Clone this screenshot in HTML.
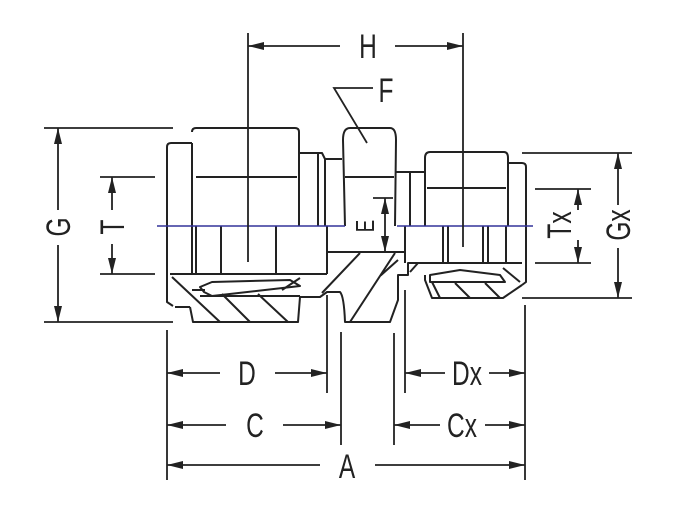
<!DOCTYPE html>
<html><head><meta charset="utf-8"><style>
html,body{margin:0;padding:0;background:#fff;}
svg{display:block}
text{font-family:"Liberation Sans",sans-serif;fill:#222;}
</style></head><body>
<svg width="676" height="516" viewBox="0 0 676 516" xmlns="http://www.w3.org/2000/svg">
<defs>
<marker id="ar" viewBox="0 0 16 8" refX="16" refY="4" markerWidth="16" markerHeight="8" markerUnits="userSpaceOnUse" orient="auto">
<path d="M0,0 L16,4 L0,8 Z" fill="#222"/></marker>
</defs>
<g stroke="#222" stroke-width="2" fill="none" stroke-linejoin="round">
<!-- left body outer -->
<path d="M173,306 L167,302 L167,147 Q167,143 171,143 L192,143"/>
<path d="M190,307 L175,307 M190,307 L193,322 L298,322 L300,297 L320,297 L327,292 L340,292 Q344,296 345,322 L390,322 L398,300 L398,275 L408,275 L408,263 L522,263"/>
<!-- left nut -->
<path d="M192,143 L192,275 M192,132 Q192,128 196,128 L295,128 Q299,128 299,132 L299,226"/>
<path d="M196,177 L297,177"/>
<path d="M196,226 L196,274 M221,226 L221,274 M276,226 L276,274 M327,226 L327,274"/>
<path d="M170,274 L327,274"/>
<!-- collar -->
<path d="M299,153 L322,153 L325,159 L325,226 M318,153 L318,226 M325,159 L342,159"/>
<!-- F hex -->
<path d="M345,226 L343,140 Q343,128 350,128 L390,128 Q396,128 396,140 L395,226 M345,177 L394,177"/>
<!-- neck -->
<path d="M395,172 L410,172 L410,226 M410,172 L425,172"/>
<!-- right nut -->
<path d="M425,226 L425,158 Q425,152 430,152 L504,152 Q508,152 508,158 L508,226 M427,188 L506,188"/>
<path d="M508,163 L522,163 Q526,163 526,167 L526,282 L522,285"/>
<path d="M443,226 L443,262 M448,226 L448,262 M483,226 L483,262 M488,226 L488,262 M506,226 L506,262"/>
<!-- middle section -->
<path d="M327,252 L405,252 M405,226 L405,263"/>
<!-- right lower -->
<path d="M425,275 L425,280 L432,298 L503,298 L522,285"/>
<!-- ferrule shapes -->
<path d="M200,287 L212,282 L290,280 L300,286 L212,296 L204,292 Z"/>
<path d="M192,290 L205,290 M200,296 L300,296"/>
<path d="M430,275 L460,270 L500,275 L505,282 L430,282 Z"/>
<!-- hatching -->
<path d="M172,277 L220,322 M222,294 L250,322 M258,294 L288,322 M300,278 L282,290 M322,293 L360,253 M350,322 L395,253 M380,276 L398,260 M432,282 L440,298 M455,283 L470,298 M485,283 L500,298 M503,268 L520,282 M410,272 L418,263"/>
</g>
<!-- centerline -->
<path d="M157,226 L345,226 M397,226 L533,226" stroke="#33339a" stroke-width="1.5"/>
<g stroke="#222" stroke-width="1.8" fill="none">
<!-- extension lines -->
<path d="M248,33 L248,262 M463,33 L463,247"/>
<path d="M44,128 L173,128 M44,322 L173,322 M100,177 L155,177 M100,274 L155,274"/>
<path d="M522,153 L632,153 M522,298 L632,298 M535,189 L591,189 M535,263 L591,263"/>
<path d="M167,330 L167,480 M525,305 L525,480 M327,295 L327,393 M341,332 L341,445 M405,290 L405,393 M394,333 L394,445"/>
<path d="M373,198 L393,198"/>
<!-- leader F -->
<path d="M373,88 L334,88 L367,143"/>
<!-- dims -->
<path d="M340,46 L248,46" marker-end="url(#ar)"/>
<path d="M395,46 L463,46" marker-end="url(#ar)"/>
<path d="M58,210 L58,128" marker-end="url(#ar)"/>
<path d="M58,245 L58,322" marker-end="url(#ar)"/>
<path d="M112,210 L112,177" marker-end="url(#ar)"/>
<path d="M112,244 L112,274" marker-end="url(#ar)"/>
<path d="M385,225 L385,198" marker-end="url(#ar)"/>
<path d="M385,225 L385,252" marker-end="url(#ar)"/>
<path d="M578,210 L578,189" marker-end="url(#ar)"/>
<path d="M578,240 L578,263" marker-end="url(#ar)"/>
<path d="M618,205 L618,153" marker-end="url(#ar)"/>
<path d="M618,248 L618,298" marker-end="url(#ar)"/>
<path d="M220,373 L167,373" marker-end="url(#ar)"/>
<path d="M275,373 L327,373" marker-end="url(#ar)"/>
<path d="M226,425 L167,425" marker-end="url(#ar)"/>
<path d="M283,425 L341,425" marker-end="url(#ar)"/>
<path d="M320,465 L167,465" marker-end="url(#ar)"/>
<path d="M375,465 L525,465" marker-end="url(#ar)"/>
<path d="M445,373 L405,373" marker-end="url(#ar)"/>
<path d="M489,373 L525,373" marker-end="url(#ar)"/>
<path d="M440,425 L394,425" marker-end="url(#ar)"/>
<path d="M485,425 L525,425" marker-end="url(#ar)"/>
</g>
<g font-size="34" text-anchor="middle">
<text transform="translate(368,58) scale(0.72,1)">H</text>
<text transform="translate(386,102) scale(0.72,1)">F</text>
<text transform="translate(247,385) scale(0.72,1)">D</text>
<text transform="translate(255,437) scale(0.72,1)">C</text>
<text transform="translate(347,478) scale(0.72,1)">A</text>
<text transform="translate(467,385) scale(0.72,1)">Dx</text>
<text transform="translate(462,437) scale(0.72,1)">Cx</text>
<text transform="translate(70,227) rotate(-90) scale(0.72,1)">G</text>
<text transform="translate(124,227) rotate(-90) scale(0.72,1)">T</text>
<text transform="translate(571,225) rotate(-90) scale(0.72,1)">Tx</text>
<text transform="translate(630,225) rotate(-90) scale(0.72,1)">Gx</text>
<text font-size="26" transform="translate(374,226) rotate(-90) scale(0.72,1)">E</text>
</g>
</svg>
</body></html>
